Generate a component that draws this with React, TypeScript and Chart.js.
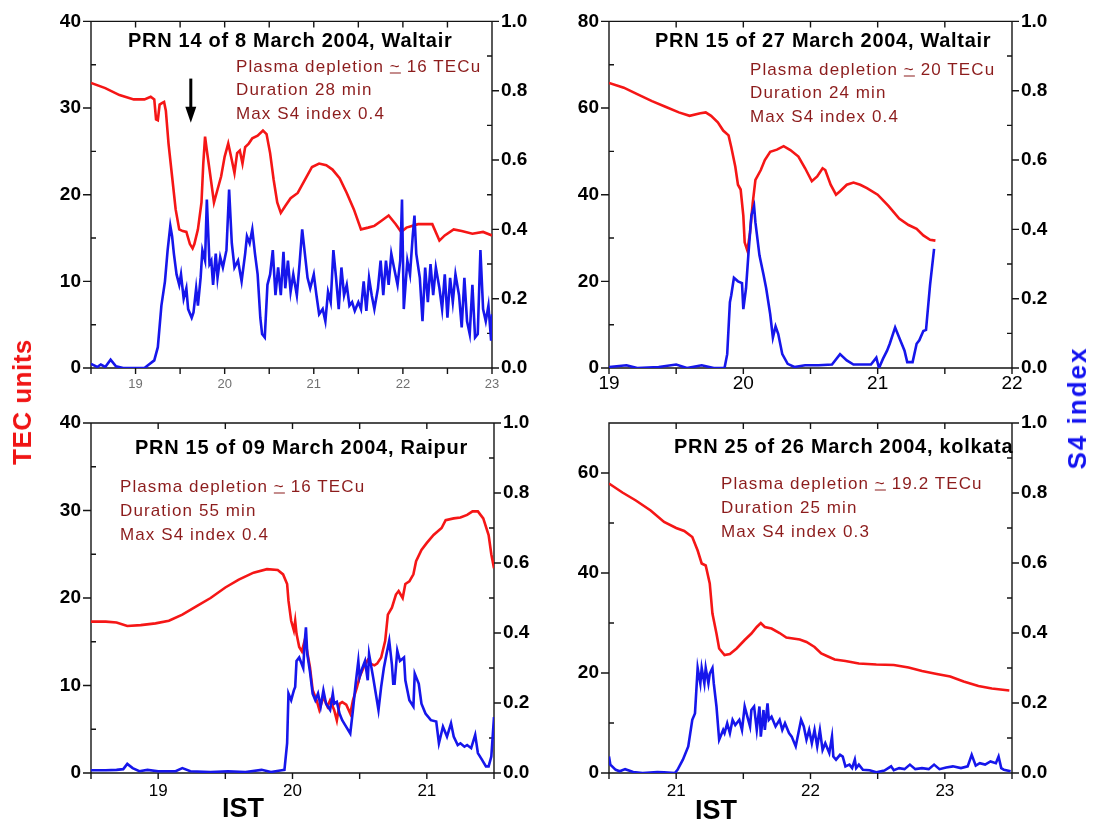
import React, { useEffect, useRef } from 'react';
import { Chart, registerables } from 'chart.js';

Chart.register(...registerables);

const FONT = "'Liberation Sans', Arial, Helvetica, sans-serif";
const RED = 'rgb(245, 22, 22)';
const BLUE = 'rgb(22, 22, 235)';
const DARK_RED = 'rgb(140, 28, 28)';

type Pt = [number, number];

// ---------- Panel 1: PRN 14, 8 March 2004, Waltair ----------
const p1Tec: Pt[] = [
  [18.50, 32.9], [18.66, 32.3], [18.82, 31.5], [18.98, 31.0], [19.10, 31.0], [19.17, 31.3], [19.21, 31.0],
  [19.23, 28.7], [19.25, 28.6], [19.27, 30.4], [19.30, 30.6], [19.32, 30.7], [19.34, 29.7], [19.37, 25.9],
  [19.41, 22.1], [19.45, 18.3], [19.49, 16.0], [19.53, 15.8], [19.57, 15.7], [19.61, 14.3], [19.64, 13.8],
  [19.66, 14.3], [19.70, 16.0], [19.74, 19.1], [19.76, 23.6], [19.78, 26.7], [19.80, 25.1], [19.83, 22.9],
  [19.88, 19.1], [19.92, 20.6], [19.96, 22.1], [20.00, 24.4], [20.04, 25.9], [20.08, 24.0], [20.11, 22.5],
  [20.14, 24.8], [20.17, 25.1], [20.20, 23.6], [20.23, 25.5], [20.27, 25.9], [20.31, 26.5], [20.37, 26.8],
  [20.43, 27.4], [20.47, 27.0], [20.51, 24.8], [20.55, 21.7], [20.59, 19.1], [20.63, 17.9], [20.68, 18.7],
  [20.74, 19.6], [20.82, 20.2], [20.90, 21.7], [20.98, 23.2], [21.06, 23.6], [21.14, 23.4], [21.21, 22.9],
  [21.29, 21.9], [21.37, 20.2], [21.45, 18.3], [21.53, 16.0], [21.61, 16.2], [21.68, 16.4], [21.76, 17.0],
  [21.84, 17.6], [21.92, 16.6], [21.98, 15.7], [22.04, 16.2], [22.10, 16.4], [22.17, 16.6], [22.25, 16.6],
  [22.33, 16.6], [22.41, 14.7], [22.47, 15.3], [22.57, 16.0], [22.66, 15.8], [22.78, 15.5], [22.90, 15.7],
  [23.00, 15.3],
];
const p1S4: Pt[] = [
  [18.50, 0.012], [18.57, 0.003], [18.61, 0.010], [18.66, 0.003], [18.72, 0.024], [18.78, 0.005], [18.86, 0.0],
  [19.02, 0.0], [19.10, 0.0], [19.15, 0.010], [19.21, 0.022], [19.25, 0.06], [19.29, 0.18], [19.33, 0.25],
  [19.36, 0.34], [19.39, 0.41], [19.41, 0.38], [19.43, 0.33], [19.46, 0.27], [19.49, 0.24], [19.51, 0.27],
  [19.54, 0.20], [19.57, 0.23], [19.59, 0.17], [19.63, 0.145], [19.65, 0.16], [19.68, 0.23], [19.70, 0.18],
  [19.73, 0.26], [19.75, 0.34], [19.78, 0.31], [19.80, 0.486], [19.83, 0.30], [19.85, 0.31], [19.87, 0.24],
  [19.90, 0.33], [19.92, 0.26], [19.95, 0.32], [19.98, 0.29], [20.02, 0.34], [20.05, 0.515], [20.08, 0.36],
  [20.11, 0.29], [20.15, 0.31], [20.19, 0.25], [20.23, 0.33], [20.25, 0.38], [20.28, 0.36], [20.31, 0.40],
  [20.34, 0.33], [20.37, 0.27], [20.40, 0.145], [20.42, 0.098], [20.45, 0.088], [20.48, 0.24], [20.51, 0.27],
  [20.54, 0.34], [20.57, 0.21], [20.60, 0.29], [20.63, 0.21], [20.66, 0.335], [20.68, 0.23], [20.71, 0.31],
  [20.74, 0.22], [20.77, 0.27], [20.81, 0.21], [20.84, 0.30], [20.87, 0.40], [20.90, 0.33], [20.93, 0.26],
  [20.96, 0.23], [21.00, 0.27], [21.03, 0.21], [21.06, 0.155], [21.10, 0.17], [21.13, 0.135], [21.16, 0.22],
  [21.19, 0.19], [21.22, 0.34], [21.25, 0.26], [21.28, 0.17], [21.31, 0.29], [21.34, 0.21], [21.37, 0.24],
  [21.40, 0.18], [21.43, 0.19], [21.46, 0.165], [21.50, 0.19], [21.53, 0.17], [21.56, 0.25], [21.59, 0.165],
  [21.62, 0.26], [21.65, 0.21], [21.68, 0.17], [21.72, 0.23], [21.75, 0.31], [21.78, 0.21], [21.81, 0.31],
  [21.84, 0.24], [21.87, 0.33], [21.90, 0.29], [21.94, 0.24], [21.97, 0.31], [21.99, 0.486], [22.01, 0.17],
  [22.05, 0.31], [22.08, 0.27], [22.11, 0.38], [22.13, 0.44], [22.15, 0.33], [22.19, 0.26], [22.22, 0.135],
  [22.25, 0.29], [22.28, 0.19], [22.31, 0.30], [22.34, 0.21], [22.37, 0.29], [22.41, 0.23], [22.44, 0.17],
  [22.47, 0.27], [22.50, 0.145], [22.53, 0.26], [22.56, 0.19], [22.59, 0.27], [22.63, 0.21], [22.66, 0.117],
  [22.69, 0.26], [22.72, 0.135], [22.75, 0.098], [22.78, 0.24], [22.81, 0.088], [22.84, 0.098], [22.87, 0.34],
  [22.90, 0.17], [22.93, 0.135], [22.96, 0.18], [22.99, 0.079], [23.00, 0.155],
];

// ---------- Panel 2: PRN 15, 27 March 2004, Waltair ----------
const p2Tec: Pt[] = [
  [19.00, 65.8], [19.11, 64.7], [19.21, 63.2], [19.32, 61.6], [19.42, 60.3], [19.52, 59.0], [19.60, 58.2],
  [19.68, 58.8], [19.72, 59.0], [19.76, 58.2], [19.81, 56.7], [19.85, 54.8], [19.89, 53.7], [19.91, 51.0],
  [19.94, 46.5], [19.96, 42.3], [19.98, 41.2], [20.00, 35.1], [20.01, 29.0], [20.03, 27.1], [20.05, 31.3],
  [20.07, 38.1], [20.09, 43.4], [20.13, 45.7], [20.16, 48.0], [20.20, 49.9], [20.25, 50.4], [20.30, 51.2],
  [20.35, 50.3], [20.41, 48.8], [20.46, 46.1], [20.51, 43.1], [20.55, 44.2], [20.59, 46.1], [20.61, 45.7],
  [20.65, 42.3], [20.69, 40.0], [20.72, 40.8], [20.77, 42.3], [20.82, 42.8], [20.87, 42.3], [20.92, 41.5],
  [21.00, 40.0], [21.08, 37.4], [21.16, 34.5], [21.23, 33.0], [21.29, 32.1], [21.34, 30.6], [21.39, 29.6],
  [21.43, 29.4],
];
const p2S4: Pt[] = [
  [19.00, 0.003], [19.13, 0.008], [19.21, 0.0], [19.37, 0.003], [19.50, 0.010], [19.58, 0.0], [19.69, 0.008],
  [19.78, 0.0], [19.86, 0.0], [19.88, 0.04], [19.90, 0.19], [19.91, 0.21], [19.93, 0.26], [19.96, 0.25],
  [19.99, 0.245], [20.00, 0.17], [20.02, 0.23], [20.04, 0.34], [20.06, 0.44], [20.08, 0.467], [20.09, 0.42],
  [20.12, 0.325], [20.15, 0.27], [20.17, 0.23], [20.20, 0.155], [20.22, 0.088], [20.24, 0.12], [20.26, 0.098],
  [20.29, 0.04], [20.33, 0.012], [20.38, 0.003], [20.46, 0.008], [20.56, 0.008], [20.66, 0.010], [20.72, 0.04],
  [20.77, 0.022], [20.82, 0.010], [20.87, 0.010], [20.95, 0.010], [20.99, 0.03], [21.01, 0.0], [21.04, 0.027],
  [21.07, 0.05], [21.09, 0.07], [21.13, 0.117], [21.16, 0.088], [21.20, 0.05], [21.22, 0.017], [21.26, 0.017],
  [21.29, 0.07], [21.31, 0.08], [21.34, 0.107], [21.36, 0.11], [21.39, 0.24], [21.42, 0.344],
];

// ---------- Panel 3: PRN 15, 09 March 2004, Raipur ----------
const p3Tec: Pt[] = [
  [18.50, 17.3], [18.61, 17.3], [18.69, 17.2], [18.77, 16.8], [18.87, 16.9], [18.98, 17.1], [19.08, 17.4],
  [19.18, 18.1], [19.29, 19.1], [19.39, 20.0], [19.50, 21.2], [19.60, 22.1], [19.71, 22.9], [19.81, 23.3],
  [19.89, 23.2], [19.93, 22.7], [19.96, 21.6], [19.97, 19.7], [19.99, 17.4], [20.01, 16.3], [20.02, 17.4],
  [20.03, 15.9], [20.05, 14.4], [20.07, 13.9], [20.09, 15.1], [20.10, 14.7], [20.13, 12.1], [20.15, 9.5],
  [20.18, 8.3], [20.20, 7.2], [20.23, 8.7], [20.26, 7.6], [20.28, 8.3], [20.31, 7.2], [20.33, 6.0],
  [20.35, 7.9], [20.37, 8.1], [20.40, 7.8], [20.43, 6.8], [20.45, 8.3], [20.48, 9.8], [20.50, 11.0],
  [20.53, 12.1], [20.56, 12.9], [20.58, 12.5], [20.61, 12.3], [20.63, 12.5], [20.66, 13.2], [20.69, 15.1],
  [20.71, 18.1], [20.74, 18.9], [20.77, 20.4], [20.79, 20.8], [20.82, 20.0], [20.84, 21.6], [20.87, 21.9],
  [20.90, 22.7], [20.92, 24.2], [20.96, 25.5], [21.00, 26.3], [21.05, 27.2], [21.11, 28.0], [21.14, 28.9],
  [21.20, 29.1], [21.25, 29.2], [21.30, 29.5], [21.34, 29.9], [21.38, 29.9], [21.42, 29.1], [21.46, 27.2],
  [21.48, 25.0], [21.50, 23.4],
];
const p3S4: Pt[] = [
  [18.50, 0.008], [18.61, 0.008], [18.69, 0.009], [18.74, 0.011], [18.77, 0.026], [18.81, 0.014], [18.86, 0.005],
  [18.92, 0.009], [19.00, 0.005], [19.13, 0.005], [19.18, 0.014], [19.24, 0.005], [19.39, 0.003], [19.52, 0.005],
  [19.65, 0.003], [19.77, 0.009], [19.84, 0.003], [19.92, 0.008], [19.94, 0.009], [19.96, 0.085], [19.97, 0.227],
  [19.99, 0.208], [20.01, 0.236], [20.02, 0.246], [20.03, 0.32], [20.05, 0.33], [20.07, 0.31], [20.08, 0.30],
  [20.09, 0.37], [20.10, 0.416], [20.11, 0.34], [20.13, 0.29], [20.15, 0.227], [20.17, 0.208], [20.19, 0.227],
  [20.21, 0.19], [20.23, 0.236], [20.25, 0.198], [20.28, 0.18], [20.30, 0.227], [20.31, 0.198], [20.33, 0.203],
  [20.35, 0.17], [20.37, 0.151], [20.40, 0.132], [20.43, 0.113], [20.45, 0.18], [20.47, 0.255], [20.49, 0.32],
  [20.50, 0.274], [20.52, 0.30], [20.54, 0.32], [20.56, 0.265], [20.57, 0.34], [20.60, 0.274], [20.62, 0.227],
  [20.64, 0.18], [20.66, 0.246], [20.68, 0.30], [20.70, 0.34], [20.72, 0.378], [20.74, 0.31], [20.75, 0.255],
  [20.76, 0.255], [20.78, 0.35], [20.80, 0.32], [20.83, 0.33], [20.84, 0.265], [20.87, 0.208], [20.90, 0.19],
  [20.91, 0.284], [20.94, 0.255], [20.96, 0.198], [20.99, 0.17], [21.03, 0.151], [21.07, 0.147], [21.09, 0.085],
  [21.12, 0.132], [21.15, 0.104], [21.18, 0.142], [21.20, 0.104], [21.23, 0.08], [21.25, 0.085], [21.28, 0.075],
  [21.30, 0.08], [21.33, 0.071], [21.36, 0.109], [21.38, 0.057], [21.41, 0.038], [21.44, 0.019], [21.46, 0.019],
  [21.48, 0.047], [21.50, 0.16],
];

// ---------- Panel 4: PRN 25, 26 March 2004, kolkata ----------
const p4Tec: Pt[] = [
  [20.50, 57.9], [20.60, 56.1], [20.70, 54.5], [20.81, 52.5], [20.91, 50.2], [21.00, 49.0], [21.06, 48.4],
  [21.12, 47.2], [21.16, 44.5], [21.19, 41.9], [21.22, 41.5], [21.25, 37.9], [21.27, 31.9], [21.30, 27.9],
  [21.32, 24.9], [21.36, 23.6], [21.40, 23.8], [21.45, 24.9], [21.51, 26.6], [21.56, 27.9], [21.60, 29.2],
  [21.63, 30.0], [21.66, 29.2], [21.71, 28.9], [21.77, 28.0], [21.82, 27.1], [21.87, 26.9], [21.92, 26.7],
  [21.97, 26.2], [22.03, 25.2], [22.08, 23.9], [22.13, 23.3], [22.18, 22.7], [22.26, 22.4], [22.36, 21.9],
  [22.49, 21.7], [22.62, 21.6], [22.73, 21.1], [22.83, 20.4], [22.94, 19.8], [23.04, 19.3], [23.14, 18.3],
  [23.25, 17.4], [23.35, 16.9], [23.48, 16.5],
];
const p4S4: Pt[] = [
  [20.50, 0.047], [20.51, 0.024], [20.55, 0.009], [20.58, 0.005], [20.62, 0.011], [20.68, 0.003], [20.75, 0.0],
  [20.86, 0.003], [20.91, 0.002], [20.99, 0.0], [21.01, 0.009], [21.05, 0.038], [21.09, 0.076], [21.12, 0.152],
  [21.14, 0.17], [21.16, 0.30], [21.18, 0.256], [21.19, 0.30], [21.21, 0.256], [21.22, 0.30], [21.24, 0.256],
  [21.25, 0.284], [21.27, 0.30], [21.28, 0.256], [21.30, 0.19], [21.32, 0.095], [21.35, 0.123], [21.36, 0.114],
  [21.38, 0.142], [21.40, 0.114], [21.42, 0.152], [21.44, 0.137], [21.47, 0.152], [21.49, 0.123], [21.51, 0.19],
  [21.53, 0.161], [21.55, 0.133], [21.56, 0.18], [21.58, 0.19], [21.60, 0.123], [21.62, 0.19], [21.63, 0.104],
  [21.65, 0.18], [21.66, 0.123], [21.68, 0.199], [21.69, 0.152], [21.71, 0.161], [21.74, 0.133], [21.77, 0.152],
  [21.79, 0.123], [21.81, 0.142], [21.84, 0.114], [21.86, 0.104], [21.89, 0.076], [21.91, 0.114], [21.93, 0.152],
  [21.95, 0.133], [21.97, 0.095], [21.99, 0.123], [22.01, 0.085], [22.03, 0.123], [22.05, 0.076], [22.07, 0.123],
  [22.09, 0.066], [22.11, 0.085], [22.14, 0.057], [22.16, 0.104], [22.17, 0.047], [22.19, 0.038], [22.22, 0.052],
  [22.24, 0.047], [22.26, 0.019], [22.29, 0.024], [22.31, 0.014], [22.33, 0.038], [22.34, 0.014], [22.36, 0.024],
  [22.39, 0.009], [22.44, 0.008], [22.49, 0.002], [22.55, 0.007], [22.60, 0.019], [22.62, 0.008], [22.66, 0.014],
  [22.70, 0.011], [22.74, 0.024], [22.78, 0.011], [22.83, 0.014], [22.88, 0.011], [22.92, 0.024], [22.96, 0.011],
  [23.01, 0.016], [23.06, 0.019], [23.12, 0.014], [23.17, 0.019], [23.20, 0.052], [23.23, 0.021], [23.26, 0.028],
  [23.30, 0.024], [23.34, 0.033], [23.38, 0.028], [23.40, 0.047], [23.42, 0.014], [23.44, 0.009], [23.49, 0.005],
];

// Axis ranges (hours IST, TEC units)
const xRanges: Pt[] = [[18.5, 23], [19, 22], [18.5, 21.5], [20.5, 23.5]];
const tecMax = [40, 80, 40, 70];
const tecMinorStep = [5, 10, 5, 10];
const tecMajorStep = [10, 20, 10, 20];

const titles = [
  'PRN 14 of 8 March 2004, Waltair',
  'PRN 15 of 27 March 2004, Waltair',
  'PRN 15 of 09 March 2004, Raipur',
  'PRN 25 of 26 March 2004, kolkata',
];
const depletion = ['16', '20', '16', '19.2'];
const duration = ['28', '24', '55', '25'];
const maxS4 = ['0.4', '0.4', '0.4', '0.3'];

// Arrow marker in panel 1 (hour, TEC top, TEC tip)
const arrowMark = { x: 19.62, yTop: 33.4, yTip: 28.3 };

const framePlugin = {
  id: 'frame',
  beforeDatasetsDraw(chart: any, _a: any, opts: any) {
    const { ctx, chartArea: a, scales } = chart;
    const isMajor = (v: number, s: number) => Math.abs(v / s - Math.round(v / s)) < 1e-6;
    ctx.save();
    ctx.strokeStyle = '#141414';
    ctx.lineWidth = 1.4;
    ctx.beginPath();
    ctx.rect(a.left, a.top, a.right - a.left, a.bottom - a.top);
    for (const t of scales.x.ticks) {
      const px = scales.x.getPixelForValue(t.value);
      ctx.moveTo(px, a.bottom);
      ctx.lineTo(px, a.bottom + 6);
      ctx.moveTo(px, a.top);
      ctx.lineTo(px, a.top + 6);
    }
    for (const t of scales.y.ticks) {
      const py = scales.y.getPixelForValue(t.value);
      if (isMajor(t.value, opts.yMajor)) {
        ctx.moveTo(a.left - 8, py);
        ctx.lineTo(a.left, py);
      } else {
        ctx.moveTo(a.left, py);
        ctx.lineTo(a.left + 5, py);
      }
    }
    for (const t of scales.y1.ticks) {
      const py = scales.y1.getPixelForValue(t.value);
      if (isMajor(t.value, 0.2)) {
        ctx.moveTo(a.right, py);
        ctx.lineTo(a.right + 7, py);
      } else {
        ctx.moveTo(a.right - 5, py);
        ctx.lineTo(a.right, py);
      }
    }
    ctx.stroke();
    ctx.restore();
  },
  afterDatasetsDraw(chart: any, _a: any, opts: any) {
    if (!opts.arrow) return;
    const { ctx, scales } = chart;
    const px = scales.x.getPixelForValue(opts.arrow.x);
    const top = scales.y.getPixelForValue(opts.arrow.yTop);
    const tip = scales.y.getPixelForValue(opts.arrow.yTip);
    ctx.save();
    ctx.strokeStyle = '#000';
    ctx.fillStyle = '#000';
    ctx.lineWidth = 3;
    ctx.beginPath();
    ctx.moveTo(px, top);
    ctx.lineTo(px, tip - 12);
    ctx.stroke();
    ctx.beginPath();
    ctx.moveTo(px - 5.5, tip - 16);
    ctx.lineTo(px + 5.5, tip - 16);
    ctx.lineTo(px, tip);
    ctx.closePath();
    ctx.fill();
    ctx.restore();
  },
};

type Layout = {
  left: number; top: number; width: number; height: number;
  plotLeft: number; plotRight: number; plotTop: number; plotBottom: number;
  xFontSize: number; xColor: string; xPad: number;
};

const layouts: Layout[] = [
  { left: 0, top: 0, width: 548, height: 400, plotLeft: 91, plotRight: 492, plotTop: 16, plotBottom: 368, xFontSize: 13, xColor: '#707070', xPad: 9 },
  { left: 548, top: 0, width: 547, height: 400, plotLeft: 609, plotRight: 1012, plotTop: 16, plotBottom: 368, xFontSize: 19, xColor: '#000', xPad: 4 },
  { left: 0, top: 400, width: 548, height: 427, plotLeft: 91, plotRight: 494, plotTop: 423, plotBottom: 773, xFontSize: 17, xColor: '#000', xPad: 8 },
  { left: 548, top: 400, width: 547, height: 427, plotLeft: 609, plotRight: 1012, plotTop: 423, plotBottom: 773, xFontSize: 17, xColor: '#000', xPad: 8 },
];

const tecSeries = [p1Tec, p2Tec, p3Tec, p4Tec];
const s4Series = [p1S4, p2S4, p3S4, p4S4];

function Panel({ idx }: { idx: number }) {
  const ref = useRef<HTMLCanvasElement>(null);
  const L = layouts[idx];
  useEffect(() => {
    const canvas = ref.current;
    if (!canvas) return;
    const leftW = L.plotLeft - L.left;
    const rightW = L.left + L.width - L.plotRight;
    const bottomH = L.top + L.height - L.plotBottom;
    const padTop = L.plotTop - L.top;
    const tickFont = { family: FONT, size: 19, weight: 'bold' as const };
    const chart = new Chart(canvas, {
      type: 'line',
      data: {
        datasets: [
          {
            label: 'S4 index',
            data: s4Series[idx].map(([x, y]) => ({ x, y })),
            yAxisID: 'y1',
            borderColor: BLUE,
            borderWidth: 2.6,
            pointRadius: 0,
            tension: 0,
            fill: false,
          },
          {
            label: 'TEC units',
            data: tecSeries[idx].map(([x, y]) => ({ x, y })),
            yAxisID: 'y',
            borderColor: RED,
            borderWidth: 2.6,
            pointRadius: 0,
            tension: 0,
            fill: false,
          },
        ],
      },
      options: {
        animation: false,
        responsive: false,
        events: [],
        layout: { autoPadding: false, padding: { top: padTop, left: 0, right: 0, bottom: 0 } },
        plugins: {
          legend: { display: false },
          tooltip: { enabled: false },
          // @ts-ignore
          frame: { yMajor: tecMajorStep[idx], arrow: idx === 0 ? arrowMark : null },
        },
        scales: {
          x: {
            type: 'linear',
            min: xRanges[idx][0],
            max: xRanges[idx][1],
            afterFit: (s: any) => { s.height = bottomH; },
            grid: { display: false, drawTicks: false },
            border: { display: false },
            ticks: {
              stepSize: 0.5,
              autoSkip: false,
              maxRotation: 0,
              padding: L.xPad,
              color: L.xColor,
              font: { family: FONT, size: L.xFontSize },
              callback: (v: any) => (Math.abs(v - Math.round(v)) < 1e-6 ? String(Math.round(v)) : ''),
            },
          },
          y: {
            type: 'linear',
            position: 'left',
            min: 0,
            max: tecMax[idx],
            afterFit: (s: any) => { s.width = leftW; },
            grid: { display: false, drawTicks: false },
            border: { display: false },
            ticks: {
              stepSize: tecMinorStep[idx],
              autoSkip: false,
              padding: 10,
              color: '#000',
              font: tickFont,
              callback: (v: any) => {
                const m = tecMajorStep[idx];
                return Math.abs(v / m - Math.round(v / m)) < 1e-6 ? String(Math.round(v)) : '';
              },
            },
          },
          y1: {
            type: 'linear',
            position: 'right',
            min: 0,
            max: 1,
            afterFit: (s: any) => { s.width = rightW; },
            grid: { display: false, drawTicks: false },
            border: { display: false },
            ticks: {
              stepSize: 0.1,
              autoSkip: false,
              padding: 9,
              color: '#000',
              font: tickFont,
              callback: (v: any) => (Math.round(v * 10) % 2 === 0 ? Number(v).toFixed(1) : ''),
            },
          },
        },
      },
      plugins: [framePlugin as any],
    });
    return () => chart.destroy();
  }, []);
  return (
    <canvas
      ref={ref}
      width={L.width}
      height={L.height}
      style={{ position: 'absolute', left: L.left, top: L.top }}
    />
  );
}

const titlePos = [
  { x: 128, y: 40 },
  { x: 655, y: 40 },
  { x: 135, y: 447 },
  { x: 674, y: 446 },
];
const notePos = [
  { x: 236, y: [66, 89, 113] },
  { x: 750, y: [69, 92, 116] },
  { x: 120, y: [486, 510, 534] },
  { x: 721, y: [483, 507, 531] },
];

function Txt(props: {
  x: number; y: number; size: number; bold?: boolean; color?: string; ls?: number;
  rotate?: boolean; center?: boolean; children: React.ReactNode;
}) {
  const { x, y, size, bold, color, ls, rotate, center, children } = props;
  let transform = 'translateY(-50%)';
  if (center) transform = 'translate(-50%, -50%)';
  if (rotate) transform = 'translate(-50%, -50%) rotate(-90deg)';
  return (
    <div
      style={{
        position: 'absolute',
        left: x,
        top: y,
        transform,
        fontFamily: FONT,
        fontSize: size,
        fontWeight: bold ? 'bold' : 'normal',
        color: color || '#000',
        letterSpacing: ls || 0,
        whiteSpace: 'nowrap',
        lineHeight: 1,
      }}
    >
      {children}
    </div>
  );
}

export default function App() {
  return (
    <div
      style={{
        position: 'absolute',
        left: 0,
        top: 0,
        width: 1095,
        height: 827,
        background: '#fff',
        overflow: 'hidden',
      }}
    >
      {[0, 1, 2, 3].map((i) => (
        <Panel key={i} idx={i} />
      ))}
      {titles.map((t, i) => (
        <Txt key={'t' + i} x={titlePos[i].x} y={titlePos[i].y} size={20} bold ls={0.7}>
          {t}
        </Txt>
      ))}
      {notePos.map((p, i) => (
        <React.Fragment key={'n' + i}>
          <Txt x={p.x} y={p.y[0]} size={17} color={DARK_RED} ls={1.1}>
            Plasma depletion <span style={{ textDecoration: 'underline' }}>~</span> {depletion[i]} TECu
          </Txt>
          <Txt x={p.x} y={p.y[1]} size={17} color={DARK_RED} ls={1.1}>
            Duration {duration[i]} min
          </Txt>
          <Txt x={p.x} y={p.y[2]} size={17} color={DARK_RED} ls={1.1}>
            Max S4 index {maxS4[i]}
          </Txt>
        </React.Fragment>
      ))}
      <Txt x={22} y={402} size={26} bold color="rgb(240,20,20)" ls={0.5} rotate>
        TEC units
      </Txt>
      <Txt x={1077} y={408} size={26} bold color="rgb(20,20,240)" ls={2} rotate>
        S4 index
      </Txt>
      <Txt x={243} y={808} size={27} bold center>
        IST
      </Txt>
      <Txt x={716} y={810} size={27} bold center>
        IST
      </Txt>
    </div>
  );
}
